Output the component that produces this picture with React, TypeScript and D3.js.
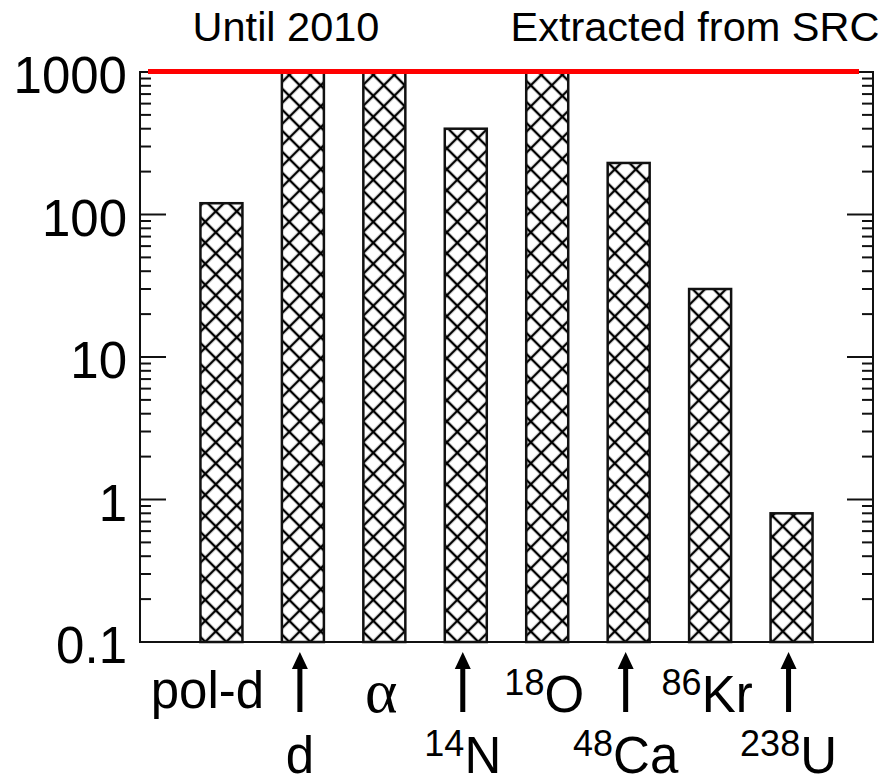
import React from "react";
import * as d3 from "d3";

const categories = ["pol-d", "d", "alpha", "14N", "18O", "48Ca", "86Kr", "238U"];
const values = [120, 1000, 1000, 400, 1000, 230, 30, 0.8];
const labelSup = ["", "", "", "14", "18", "48", "86", "238"];
const labelMain = ["pol-d", "d", "α", "N", "O", "Ca", "Kr", "U"];
const labelRow = [1, 2, 1, 2, 1, 2, 1, 2];
const yTicks = [0.1, 1, 10, 100, 1000];
const yTickLabels = ["0.1", "1", "10", "100", "1000"];
const topLabels = ["Until 2010", "Extracted from SRC"];
const limitValue = 1000;

const W = 890;
const H = 778;
const L = 140, R = 873, T = 72, B = 642;
const FONT = "'Liberation Sans', Arial, Helvetica, sans-serif";

export default function App() {
  const x = d3.scalePoint<string>().domain(categories).range([L, R]).padding(1);
  const y = d3.scaleLog().domain([0.1, 1000]).range([B, T]);
  const barW = 42;
  const P = 14.85;

  const minor: number[] = [];
  for (let e = -1; e < 3; e++) {
    for (let m = 2; m <= 9; m++) minor.push(m * Math.pow(10, e));
  }

  const label = (i: number) =>
    labelSup[i] ? (
      <>
        <tspan fontSize={36} dy={-17}>{labelSup[i]}</tspan>
        <tspan dy={17}>{labelMain[i]}</tspan>
      </>
    ) : (
      labelMain[i]
    );

  return (
    <svg
      width={W}
      height={H}
      style={{ position: "absolute", left: 0, top: 0, display: "block", background: "#fff" }}
    >
      <defs>
        <pattern
          id="hatch"
          patternUnits="userSpaceOnUse"
          width={P}
          height={P}
          patternTransform="translate(5.75,1.3) rotate(45)"
        >
          <rect width={P} height={P} fill="#fff" />
          <line x1={0} y1={0} x2={P} y2={0} stroke="#000" strokeWidth={2.4} />
          <line x1={0} y1={0} x2={0} y2={P} stroke="#000" strokeWidth={2.4} />
          <line x1={0} y1={P} x2={P} y2={P} stroke="#000" strokeWidth={2.4} />
          <line x1={P} y1={0} x2={P} y2={P} stroke="#000" strokeWidth={2.4} />
        </pattern>
      </defs>

      {/* bars */}
      {categories.map((c, i) => {
        const cx = x(c)!;
        const yt = y(values[i]);
        return (
          <rect
            key={c}
            x={cx - barW / 2}
            y={yt}
            width={barW}
            height={B - yt}
            fill="url(#hatch)"
            stroke="#111"
            strokeWidth={2.5}
          />
        );
      })}

      {/* frame */}
      <rect x={L} y={T} width={R - L} height={B - T} fill="none" stroke="#111" strokeWidth={2} />

      {/* y ticks */}
      {yTicks.map((t) => (
        <g key={"t" + t}>
          <line x1={L} x2={L + 26} y1={y(t)} y2={y(t)} stroke="#111" strokeWidth={2} />
          <line x1={R} x2={R - 26} y1={y(t)} y2={y(t)} stroke="#111" strokeWidth={2} />
        </g>
      ))}
      {minor.map((t) => (
        <g key={"m" + t}>
          <line x1={L} x2={L + 11} y1={y(t)} y2={y(t)} stroke="#111" strokeWidth={2} />
          <line x1={R} x2={R - 11} y1={y(t)} y2={y(t)} stroke="#111" strokeWidth={2} />
        </g>
      ))}
      {yTicks.map((t, i) => (
        <text
          key={"l" + t}
          x={127}
          y={y(t) + 21}
          textAnchor="end"
          fontFamily={FONT}
          fontSize={51}
          fill="#000"
        >
          {yTickLabels[i]}
        </text>
      ))}

      {/* red limit line */}
      <line
        x1={L + 8}
        x2={R - 14}
        y1={y(limitValue) - 0.5}
        y2={y(limitValue) - 0.5}
        stroke="#ff0000"
        strokeWidth={5}
      />

      {/* top labels */}
      <text x={286} y={41} textAnchor="middle" fontFamily={FONT} fontSize={41.5} fill="#000">
        {topLabels[0]}
      </text>
      <text x={695} y={41} textAnchor="middle" fontFamily={FONT} fontSize={41.5} fill="#000">
        {topLabels[1]}
      </text>

      {/* category labels */}
      {categories.map((c, i) => {
        const cx = x(c)! - 3;
        if (labelRow[i] === 2) {
          return (
            <g key={"lab" + c}>
              <path
                d={`M${cx - 2.5},712 L${cx - 2.5},669 L${cx - 8},669 L${cx},652 L${cx + 8},669 L${cx + 2.5},669 L${cx + 2.5},712 Z`}
                fill="#000"
              />
              <text x={cx} y={773} textAnchor="middle" fontFamily={FONT} fontSize={51} fill="#000">
                {label(i)}
              </text>
            </g>
          );
        }
        const isAlpha = labelMain[i] === "α";
        return (
          <text
            key={"lab" + c}
            x={i === 0 ? cx - 11 : cx}
            y={i === 0 ? 708 : 712}
            textAnchor="middle"
            fontFamily={isAlpha ? "'Liberation Serif', 'Times New Roman', serif" : FONT}
            fontSize={isAlpha ? 62 : 51}
            fill="#000"
          >
            {label(i)}
          </text>
        );
      })}
    </svg>
  );
}
